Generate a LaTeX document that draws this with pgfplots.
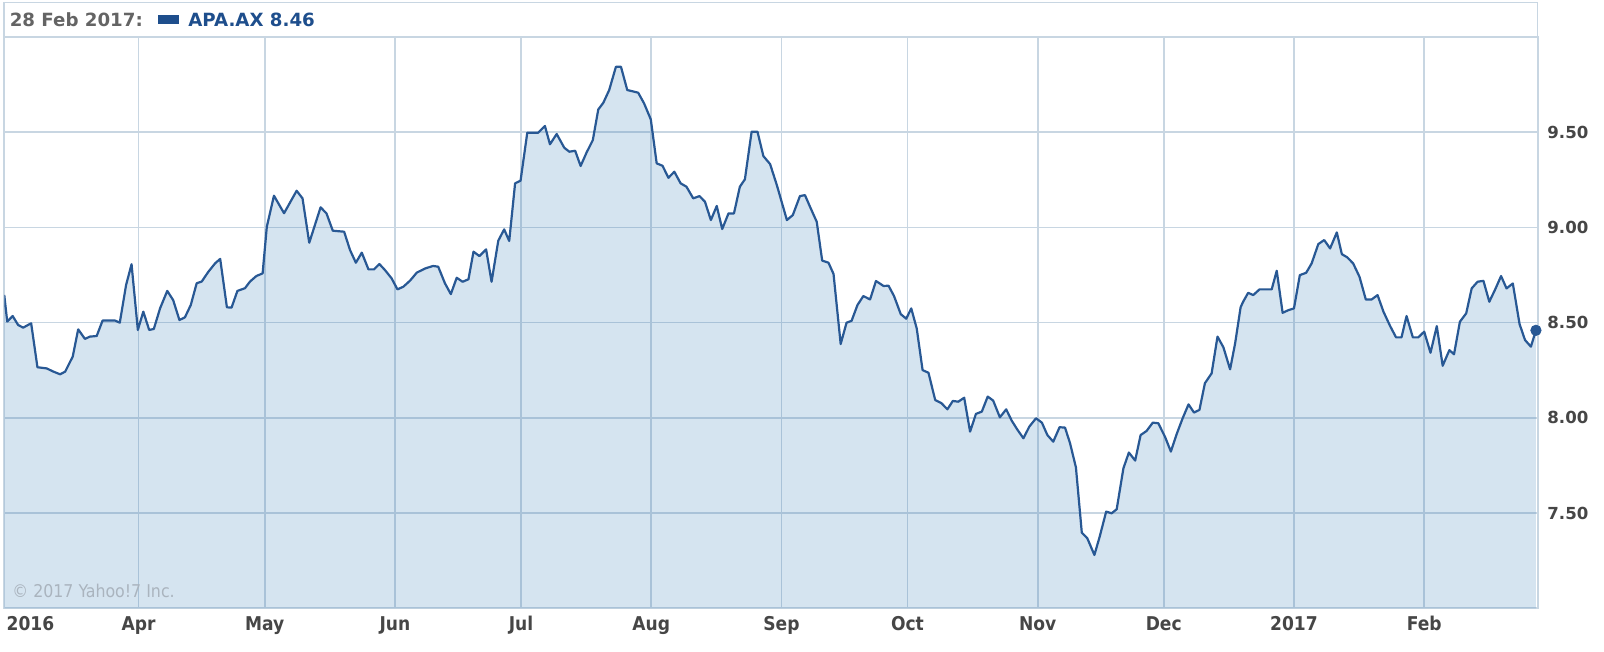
\documentclass[border=0pt]{standalone}
\usepackage{pgfplots}
\usepackage{pgfplotstable}
\pgfplotsset{compat=1.18}
\usepackage{fontspec}
\setmainfont{DejaVu Sans}
\newfontfamily\condfont{DejaVu Sans Condensed}
\definecolor{gridc}{RGB}{200,214,226}
\definecolor{linec}{RGB}{40,88,148}
\definecolor{fillc}{RGB}{45,118,180}
\definecolor{hdrgray}{RGB}{100,100,100}
\definecolor{hdrblue}{RGB}{30,78,140}
\definecolor{lblc}{RGB}{70,70,70}
\definecolor{copyc}{RGB}{170,180,190}

\pgfplotstableread{
d v
0 8.646
0.7 8.506
2.0 8.535
3.3 8.488
4.5 8.474
6.4 8.497
7.9 8.266
10.1 8.260
11.7 8.243
13.3 8.229
14.5 8.243
16.3 8.322
17.6 8.465
19.2 8.415
20.4 8.427
22.0 8.430
23.4 8.511
26.4 8.511
27.5 8.500
29.0 8.698
30.3 8.807
31.8 8.462
33.1 8.558
34.5 8.462
35.6 8.467
37.1 8.576
38.8 8.667
40.2 8.619
41.7 8.514
43.0 8.528
44.4 8.593
45.8 8.707
47.0 8.716
48.6 8.768
50.2 8.812
51.4 8.835
53.0 8.581
54.1 8.579
55.5 8.667
57.3 8.681
58.5 8.716
60.0 8.745
61.5 8.759
62.5 9.004
64.2 9.167
66.6 9.075
69.6 9.193
71.0 9.153
72.6 8.920
75.3 9.106
76.7 9.074
78.2 8.983
80.9 8.978
82.3 8.882
83.7 8.815
85.1 8.868
86.7 8.780
88.0 8.780
89.3 8.808
90.6 8.777
92.2 8.733
93.6 8.675
95.0 8.689
96.6 8.721
98.2 8.763
100.2 8.785
102.1 8.798
103.3 8.794
104.9 8.707
106.3 8.650
107.7 8.736
109.1 8.715
110.5 8.728
111.7 8.873
113.1 8.850
114.7 8.885
116.0 8.715
117.6 8.931
119.0 8.990
120.2 8.929
121.6 9.232
122.9 9.246
124.5 9.498
127.1 9.498
128.7 9.533
129.9 9.437
131.5 9.491
133.3 9.419
134.5 9.398
135.9 9.403
137.2 9.323
138.6 9.393
140.1 9.459
141.4 9.620
142.6 9.655
144.0 9.722
145.6 9.844
146.8 9.844
148.3 9.722
150.9 9.708
152.3 9.652
153.9 9.568
155.3 9.337
156.7 9.324
158.1 9.261
159.5 9.293
161.0 9.232
162.4 9.214
164.0 9.153
165.5 9.165
166.8 9.135
168.2 9.039
169.6 9.113
170.9 8.992
172.4 9.074
173.7 9.074
175.1 9.214
176.3 9.253
177.9 9.503
179.3 9.503
180.7 9.375
182.3 9.333
183.9 9.223
186.3 9.039
187.7 9.065
189.4 9.165
190.6 9.170
191.8 9.109
193.4 9.030
194.7 8.826
196.2 8.815
197.4 8.756
199.1 8.388
200.5 8.500
201.7 8.510
203.1 8.593
204.5 8.640
206.1 8.622
207.5 8.719
209.3 8.693
210.5 8.694
211.8 8.640
213.4 8.545
214.7 8.521
215.9 8.575
217.2 8.470
218.6 8.251
220.0 8.237
221.6 8.094
223.1 8.077
224.5 8.045
225.8 8.089
227.1 8.085
228.5 8.106
229.9 7.928
231.3 8.021
232.7 8.033
234.1 8.112
235.4 8.091
237.0 8.003
238.5 8.045
239.8 7.986
241.2 7.937
242.6 7.893
244.0 7.954
245.6 7.998
247.0 7.975
248.3 7.910
249.7 7.875
251.2 7.951
252.5 7.949
253.7 7.867
255.1 7.740
256.5 7.397
257.8 7.368
259.5 7.280
260.8 7.380
262.3 7.508
263.6 7.499
264.8 7.520
266.4 7.735
267.7 7.818
269.2 7.776
270.5 7.910
271.9 7.931
273.4 7.975
274.7 7.972
276.3 7.901
277.7 7.823
279.1 7.916
280.5 7.998
281.9 8.071
283.2 8.028
284.5 8.042
285.8 8.182
287.4 8.234
288.8 8.427
290.2 8.371
291.8 8.255
293.0 8.392
294.3 8.581
294.9 8.610
296.1 8.657
297.3 8.645
298.8 8.675
300.1 8.675
301.7 8.675
302.9 8.773
304.3 8.552
305.7 8.566
307.0 8.575
308.4 8.750
309.9 8.762
311.2 8.811
312.8 8.913
314.2 8.934
315.6 8.890
317.2 8.974
318.4 8.860
319.7 8.843
321.1 8.811
322.6 8.741
324.1 8.622
325.5 8.622
326.9 8.645
328.3 8.558
329.9 8.482
331.3 8.423
332.6 8.423
333.8 8.535
335.3 8.423
336.6 8.423
338.0 8.453
339.5 8.342
341.0 8.482
342.4 8.274
344.0 8.356
345.1 8.334
346.5 8.505
348.0 8.549
349.3 8.680
350.7 8.715
352.1 8.720
353.5 8.610
354.9 8.675
356.3 8.745
357.6 8.680
359.1 8.706
360.7 8.493
362.0 8.409
363.4 8.374
364.6 8.460
}\pricedata

\begin{document}
\begin{tikzpicture}
\path[use as bounding box] (0,0) rectangle (802pt,326pt);
% header box
\draw[gridc, line width=0.8pt] (2.13pt,307.45pt) rectangle (768.8pt,324.8pt);
\node[anchor=west, inner sep=0pt, text=hdrgray, font=\bfseries\fontsize{9.1}{10}\selectfont] at (4.7pt,316pt) {28 Feb 2017:};
\node[anchor=west, inner sep=0pt] at (79pt,316pt) {\color{hdrblue}\rule{10.5pt}{4.5pt}};
\node[anchor=west, inner sep=0pt, text=hdrblue, font=\bfseries\fontsize{9.1}{10}\selectfont] at (94pt,316pt) {APA.AX 8.46};
\begin{axis}[
  at={(2.13pt,21.85pt)}, anchor=south west,
  scale only axis, width=766.67pt, height=285.6pt,
  xmin=0, xmax=365, ymin=7, ymax=10,
  axis line style={gridc, line width=0.9pt},
  xtick={32,62,93,123,154,185,215,246,276,307,338},
  xticklabels={Apr,May,Jun,Jul,Aug,Sep,Oct,Nov,Dec,2017,Feb},
  extra x ticks={0},
  extra x tick labels={2016},
  extra x tick style={grid=none, xticklabel style={anchor=north west, xshift=1pt}},
  ytick={7.5,8,8.5,9,9.5},
  yticklabels={7.50,8.00,8.50,9.00,9.50},
  yticklabel pos=right,
  ymajorgrids, xmajorgrids,
  major grid style={gridc, line width=0.8pt},
  major tick length=0pt,
  xticklabel style={font=\condfont\bfseries\fontsize{9.5}{10}\selectfont, text=lblc, anchor=north, inner sep=0pt, yshift=-3.8pt},
  yticklabel style={font=\bfseries\fontsize{8.3}{9}\selectfont, text=lblc, anchor=west, inner sep=0pt, xshift=4.7pt},
]
\addplot[draw=none, fill=fillc, fill opacity=0.2] table[x=d, y=v] {\pricedata} \closedcycle;
\addplot[linec, line width=1.1pt, line join=round] table[x=d, y=v] {\pricedata};
\addplot[only marks, mark=*, mark size=2.6pt, mark options={fill=linec, draw=linec}] coordinates {(364.6,8.46)};
\end{axis}
\node[anchor=west, inner sep=0pt, text=copyc, font=\condfont\fontsize{8.8}{10}\selectfont] at (6pt,30.5pt) {© 2017 Yahoo!7 Inc.};
\end{tikzpicture}
\end{document}
